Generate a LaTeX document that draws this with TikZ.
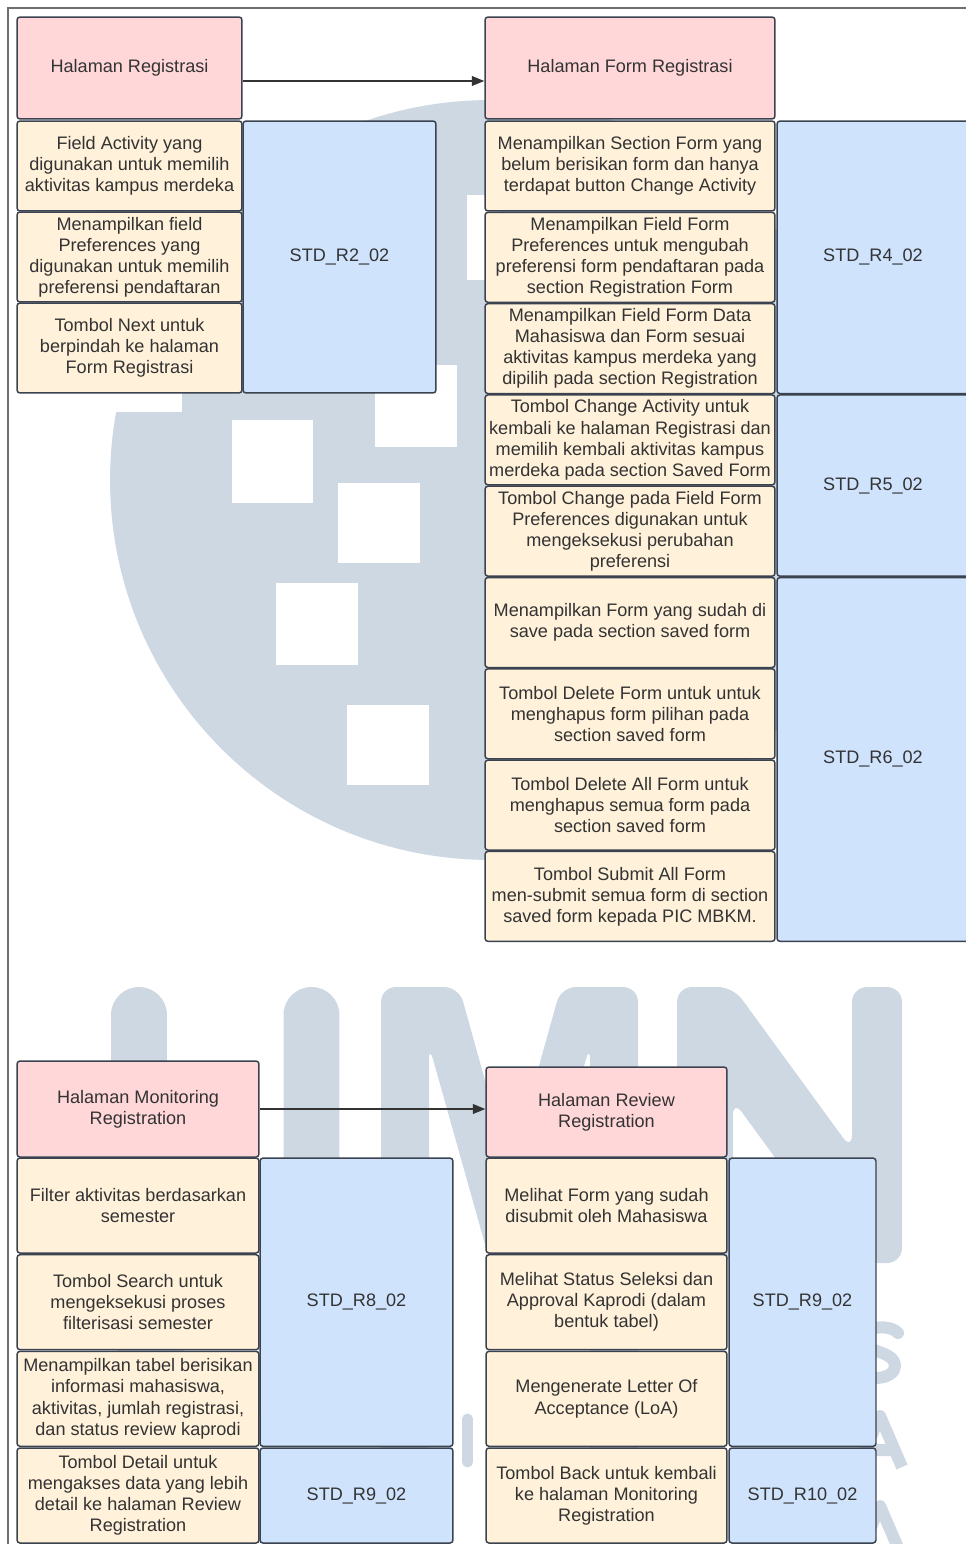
\documentclass[tikz,border=0pt]{standalone}
\usepackage{fontspec}
\setmainfont{Liberation Sans}
\usetikzlibrary{arrows.meta}
\definecolor{pagepink}{HTML}{FFD7D9}
\definecolor{itemyellow}{HTML}{FFF1DA}
\definecolor{stdblue}{HTML}{CFE3FD}
\definecolor{boxline}{HTML}{3B4350}
\definecolor{txtgray}{HTML}{333333}
\definecolor{umn}{HTML}{CDD8E3}
\definecolor{framegray}{HTML}{6E6E6E}
\begin{document}
\begin{tikzpicture}[x=0.02cm, y=-0.02cm,
		box/.style={draw=boxline, line width=0.85pt, rounded corners=1.7pt, inner sep=0pt, align=center, text=txtgray, font=\fontsize{10.3}{12}\selectfont},
		halaman/.style={box, fill=pagepink},
		fitur/.style={box, fill=itemyellow},
		kode/.style={box, fill=stdblue},
		kolA/.style={minimum width=4.5cm},
		kolB/.style={minimum width=3.86cm},
		kolC/.style={minimum width=5.8cm},
		kolD/.style={minimum width=3.84cm},
		kolE/.style={minimum width=4.84cm},
		kolF/.style={minimum width=4.82cm},
		kolG/.style={minimum width=2.94cm},
		panah/.style={draw=txtgray, line width=0.75pt, -{Triangle[length=7pt, width=5.5pt]}}]
		\useasboundingbox (0,0) rectangle (966,1544);
		
		\fill[umn] (490,480) circle (7.6cm);
		\fill[white] (100,90) rectangle (182,412);
		\fill[white] (467,195) rectangle (500,280);
		\fill[white] (375,365) rectangle (457,447);
		\fill[white] (232,420) rectangle (313,503);
		\fill[white] (338,483) rectangle (420,563);
		\fill[white] (276,583) rectangle (358,665);
		\fill[white] (347,705) rectangle (429,785);
		
		\draw[umn, line width=1.12cm, line cap=round, rounded corners=1.5cm] (139,1015) -- (139,1390) -- (311.5,1390) -- (311.5,1015);
		\fill[umn, rounded corners=0.3cm] (381,1480) -- (381,987) -- (459,987) -- (510,1170) -- (561,987) -- (638,987) -- (638,1480) -- (590,1480) -- (590,1045) -- (529,1262) -- (490,1262) -- (429,1045) -- (429,1480) -- cycle;
		\fill[umn, rounded corners=0.3cm] (677,1263) -- (677,987) -- (733,987) -- (852,1150) -- (852,987) -- (902,987) -- (902,1263) -- (852,1263) -- (733,1100) -- (733,1263) -- cycle;
		\draw[umn, line width=0.24cm, line cap=round] (898,1333) .. controls (892,1325) and (864,1324) .. (862,1340) .. controls (861,1352) and (895,1350) .. (895,1366) .. controls (895,1380) and (864,1382) .. (858,1370);
		\draw[umn, line width=0.24cm, line join=round] (858,1467) -- (880,1416) -- (902,1467) (866,1450) -- (894,1450);
		\draw[umn, line width=0.24cm, line join=round] (858,1557) -- (880,1506) -- (902,1557);
		\draw[umn, line width=0.22cm, line cap=round] (467.5,1419) -- (467.5,1462);
		
		\draw[framegray, line width=1.1pt] (8,1544) -- (8,8) -- (966,8);
		
		\node[halaman, kolA, minimum height=2.04cm] (hreg) at (129.5,68) {Halaman Registrasi};
		\node[fitur, kolA, minimum height=1.8cm] (tl1) at (129.5,166) {Field Activity yang\\digunakan untuk memilih\\aktivitas kampus merdeka};
		\node[fitur, kolA, minimum height=1.8cm] (tl2) at (129.5,257) {Menampilkan field\\Preferences yang\\digunakan untuk memilih\\preferensi pendaftaran};
		\node[fitur, kolA, minimum height=1.8cm] (tl3) at (129.5,348) {Tombol Next untuk\\berpindah ke halaman\\Form Registrasi};
		\node[kode, kolB, minimum height=5.44cm] (r2) at (339.5,257) {STD\_R2\_02};
		
		\node[halaman, kolC, minimum height=2.04cm] (hform) at (630,68) {Halaman Form Registrasi};
		\node[fitur, kolC, minimum height=1.8cm] (tr1) at (630,166) {Menampilkan Section Form yang\\belum berisikan form dan hanya\\terdapat button Change Activity};
		\node[fitur, kolC, minimum height=1.8cm] (tr2) at (630,257.3) {Menampilkan Field Form\\Preferences untuk mengubah\\preferensi form pendaftaran pada\\section Registration Form};
		\node[fitur, kolC, minimum height=1.8cm] (tr3) at (630,348.6) {Menampilkan Field Form Data\\Mahasiswa dan Form sesuai\\aktivitas kampus merdeka yang\\dipilih pada section Registration};
		\node[fitur, kolC, minimum height=1.8cm] (tr4) at (630,439.9) {Tombol Change Activity untuk\\kembali ke halaman Registrasi dan\\memilih kembali aktivitas kampus\\merdeka pada section Saved Form};
		\node[fitur, kolC, minimum height=1.8cm] (tr5) at (630,531.2) {Tombol Change pada Field Form\\Preferences digunakan untuk\\mengeksekusi perubahan\\preferensi};
		\node[fitur, kolC, minimum height=1.8cm] (tr6) at (630,622.5) {Menampilkan Form yang sudah di\\save pada section saved form};
		\node[fitur, kolC, minimum height=1.8cm] (tr7) at (630,713.8) {Tombol Delete Form untuk untuk\\menghapus form pilihan pada\\section saved form};
		\node[fitur, kolC, minimum height=1.8cm] (tr8) at (630,805.1) {Tombol Delete All Form untuk\\menghapus semua form pada\\section saved form};
		\node[fitur, kolC, minimum height=1.8cm] (tr9) at (630,896.4) {Tombol Submit All Form\\men-submit semua form di section\\saved form kepada PIC MBKM.};
		\node[kode, kolD, minimum height=5.452cm] (r4) at (873,257.3) {STD\_R4\_02};
		\node[kode, kolD, minimum height=3.626cm] (r5) at (873,485.55) {STD\_R5\_02};
		\node[kode, kolD, minimum height=7.278cm] (r6) at (873,759.45) {STD\_R6\_02};
		
		\node[halaman, kolE, minimum height=1.92cm] (hmon) at (138,1109) {Halaman Monitoring\\Registration};
		\node[fitur, kolE, minimum height=1.9cm] (bl1) at (138,1205.5) {Filter aktivitas berdasarkan\\semester};
		\node[fitur, kolE, minimum height=1.9cm] (bl2) at (138,1302.2) {Tombol Search untuk\\mengeksekusi proses\\filterisasi semester};
		\node[fitur, kolE, minimum height=1.9cm] (bl3) at (138,1398.8) {Menampilkan tabel berisikan\\informasi mahasiswa,\\aktivitas, jumlah registrasi,\\dan status review kaprodi};
		\node[fitur, kolE, minimum height=1.9cm] (bl4) at (138,1495.5) {Tombol Detail untuk\\mengakses data yang lebih\\detail ke halaman Review\\Registration};
		\node[kode, kolB, minimum height=5.766cm] (r8) at (356.5,1302.2) {STD\_R8\_02};
		\node[kode, kolB, minimum height=1.9cm] (r9a) at (356.5,1495.5) {STD\_R9\_02};
		
		\node[halaman, kolF, minimum height=1.8cm] (hrev) at (606.5,1112) {Halaman Review\\Registration};
		\node[fitur, kolF, minimum height=1.9cm] (br1) at (606.5,1205.5) {Melihat Form yang sudah\\disubmit oleh Mahasiswa};
		\node[fitur, kolF, minimum height=1.9cm] (br2) at (606.5,1302.2) {Melihat Status Seleksi dan\\Approval Kaprodi (dalam\\bentuk tabel)};
		\node[fitur, kolF, minimum height=1.9cm] (br3) at (606.5,1398.8) {Mengenerate Letter Of\\Acceptance (LoA)};
		\node[fitur, kolF, minimum height=1.9cm] (br4) at (606.5,1495.5) {Tombol Back untuk kembali\\ke halaman Monitoring\\Registration};
		\node[kode, kolG, minimum height=5.766cm] (r9b) at (802.5,1302.2) {STD\_R9\_02};
		\node[kode, kolG, minimum height=1.9cm] (r10) at (802.5,1495.5) {STD\_R10\_02};
		
		\coordinate (atas) at (0,81);
		\coordinate (bawah) at (0,1109);
		\draw[panah] (hreg.east |- atas) -- (hform.west |- atas);
		\draw[panah] (hmon.east |- bawah) -- (hrev.west |- bawah);
	\end{tikzpicture}
\end{document}
